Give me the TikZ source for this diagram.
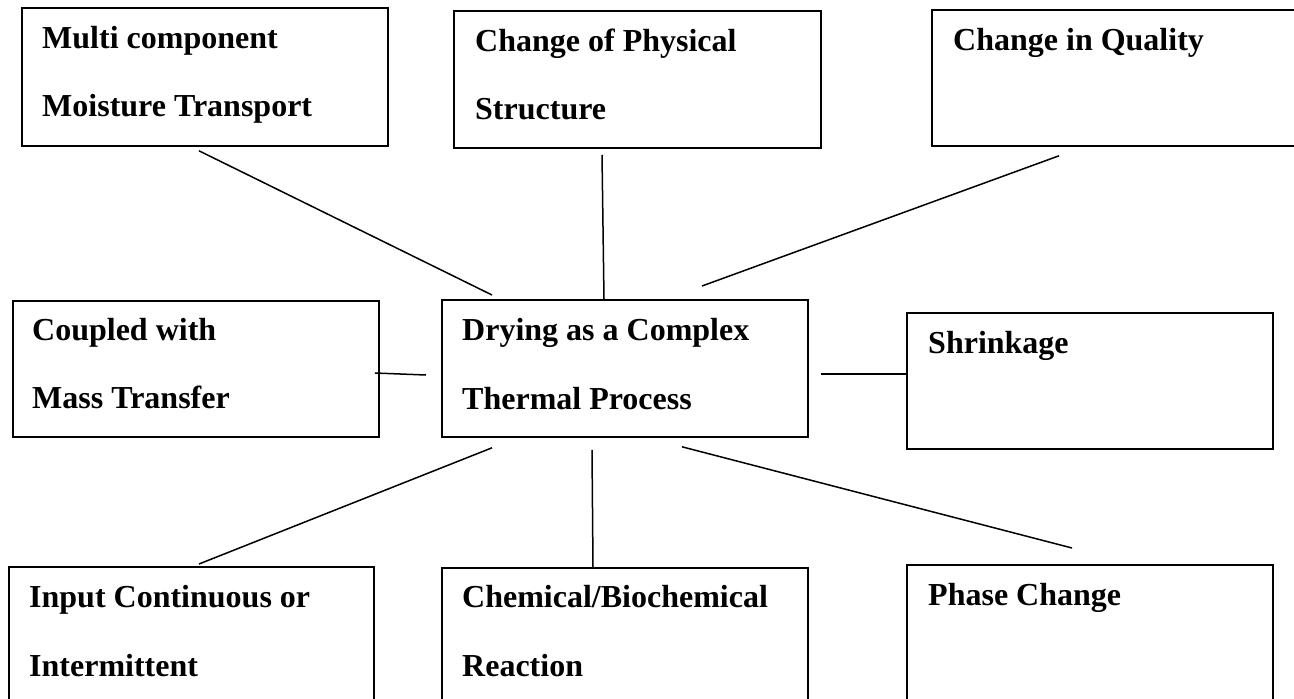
\documentclass[tikz,border=0pt]{standalone}
\usepackage{fontspec}
\setmainfont{Liberation Serif}
\begin{document}
\begin{tikzpicture}[x=1pt,y=-1pt,
  box/.style={draw=black, line width=1.8pt, rectangle, inner sep=0pt, anchor=north west},
  lbl/.style={anchor=base west, inner sep=0pt, font=\fontsize{32}{38}\selectfont\bfseries},
  link/.style={draw=black, line width=1.5pt}]
\useasboundingbox (0,0) rectangle (1294,699);
\clip (0,0) rectangle (1294,699);
% boxes
\node[box, minimum width=366pt, minimum height=138pt] (b1) at (21,7) {};
\node[box, minimum width=367pt, minimum height=137pt] (b2) at (453,10) {};
\node[box, minimum width=400pt, minimum height=136pt] (b3) at (931,9) {};
\node[box, minimum width=366pt, minimum height=136pt] (b4) at (12,300) {};
\node[box, minimum width=366pt, minimum height=137pt] (b5) at (441,299) {};
\node[box, minimum width=366pt, minimum height=136pt] (b6) at (906,312) {};
\node[box, minimum width=365pt, minimum height=160pt] (b7) at (8,566) {};
\node[box, minimum width=366pt, minimum height=160pt] (b8) at (441,567) {};
\node[box, minimum width=366pt, minimum height=160pt] (b9) at (906,564) {};
% texts
\node[lbl] (t1a) at ([shift={(21,41)}]b1.north west) {Multi component};
\node[lbl] (t1b) at ([shift={(21,109)}]b1.north west) {Moisture Transport};
\node[lbl] (t2a) at ([shift={(22,41)}]b2.north west) {Change of Physical};
\node[lbl] (t2b) at ([shift={(22,109)}]b2.north west) {Structure};
\node[lbl] (t3a) at ([shift={(22,41)}]b3.north west) {Change in Quality};
\node[lbl] (t4a) at ([shift={(20,40)}]b4.north west) {Coupled with};
\node[lbl] (t4b) at ([shift={(20,108)}]b4.north west) {Mass Transfer};
\node[lbl] (t5a) at ([shift={(21,41)}]b5.north west) {Drying as a Complex};
\node[lbl] (t5b) at ([shift={(21,110)}]b5.north west) {Thermal Process};
\node[lbl] (t6a) at ([shift={(22,41)}]b6.north west) {Shrinkage};
\node[lbl] (t7a) at ([shift={(21,41)}]b7.north west) {Input Continuous or};
\node[lbl] (t7b) at ([shift={(21,110)}]b7.north west) {Intermittent};
\node[lbl] (t8a) at ([shift={(21,40)}]b8.north west) {Chemical/Biochemical};
\node[lbl] (t8b) at ([shift={(21,109)}]b8.north west) {Reaction};
\node[lbl] (t9a) at ([shift={(22,41)}]b9.north west) {Phase Change};
% connectors
\draw[link] ([shift={(178,4)}]b1.south west) -- ([shift={(51,-4)}]b5.north west);
\draw[link] ([shift={(149,6)}]b2.south west) -- ([shift={(163,0)}]b5.north west);
\draw[link] ([shift={(128,9)}]b3.south west) -- ([shift={(261,-13)}]b5.north west);
\draw[link] ([shift={(-5,73)}]b4.north east) -- ([shift={(-15,76)}]b5.north west);
\draw[link] ([shift={(12,75)}]b5.north east) -- ([shift={(0,62)}]b6.north west);
\draw[link] ([shift={(51,10)}]b5.south west) -- ([shift={(191,-2)}]b7.north west);
\draw[link] ([shift={(151,12)}]b5.south west) -- ([shift={(152,0)}]b8.north west);
\draw[link] ([shift={(241,9)}]b5.south west) -- ([shift={(166,-16)}]b9.north west);
\end{tikzpicture}
\end{document}
